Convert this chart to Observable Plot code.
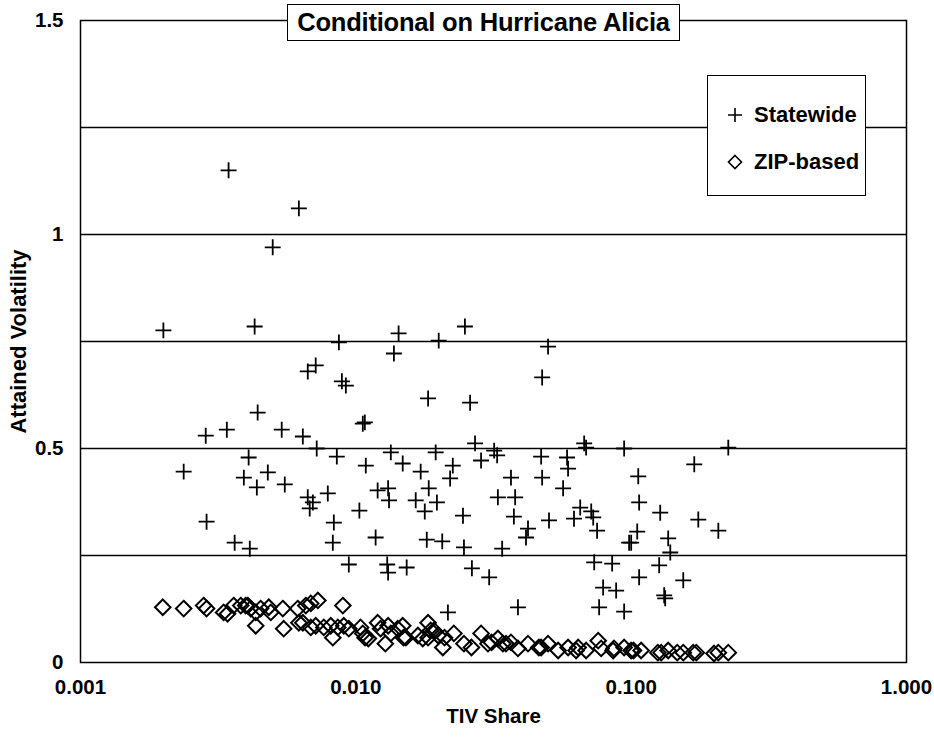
<!DOCTYPE html>
<html><head><meta charset="utf-8">
<script src="https://cdn.jsdelivr.net/npm/d3@7"></script>
<script src="https://cdn.jsdelivr.net/npm/@observablehq/plot@0.6"></script>
<style>
body{margin:0;background:#fff;font-family:"Liberation Sans",Arial,sans-serif;}
#wrap{position:relative;width:934px;height:738px;}
.title{position:absolute;left:287px;top:4px;width:393px;height:37px;box-sizing:border-box;border:1.5px solid #000;background:#fff;font-weight:bold;font-size:25.5px;display:flex;align-items:center;justify-content:center;white-space:nowrap;letter-spacing:-0.2px;}
.legend{position:absolute;left:707px;top:75px;width:159px;height:121px;box-sizing:border-box;border:1.5px solid #000;background:#fff;font-weight:bold;font-size:22px;}
.legend .row{position:absolute;left:18px;display:flex;align-items:center;white-space:nowrap;height:26px;}
.legend svg{margin-right:10px;}
</style></head>
<body>
<div id="wrap"></div>
<script>
// Tick labels / categories
const xTicks = [0.001, 0.01, 0.1, 1];
const yTicks = [0, 0.5, 1, 1.5];
const gridY = [0.25, 0.5, 0.75, 1, 1.25];
const seriesNames = ["Statewide", "ZIP-based"];
const titleText = "Conditional on Hurricane Alicia";

// Statewide series (TIV share, attained volatility)
const statewideX = [0.00200,0.00345,0.00621,0.00499,0.00429,0.00868,0.01375,0.00669,0.00715,0.00890,
0.00920,0.00440,0.00285,0.00340,0.00538,0.00642,0.00721,0.00853,0.01060,0.01078,
0.00408,0.00237,0.00392,0.00479,0.00437,0.00552,0.01087,0.00669,0.00698,0.00680,
0.00791,0.01200,0.01310,0.01320,0.01030,0.00287,0.00832,0.00825,0.01180,0.00363,
0.00412,0.00943,0.01300,0.01310,0.01430,0.02000,0.02490,0.04990,0.04750,0.01830,
0.02600,0.01340,0.01950,0.02710,0.03180,0.03260,0.01480,0.02250,0.02850,0.04710,
0.05850,0.05900,0.06750,0.06860,0.09430,0.01720,0.02200,0.03660,0.04750,0.05660,
0.01840,0.01650,0.01970,0.01780,0.03280,0.03790,0.03750,0.02450,0.05030,0.06200,
0.06530,0.07160,0.07280,0.07520,0.04220,0.04150,0.01810,0.02060,0.02470,0.03400,
0.09830,0.01530,0.02640,0.03050,0.07340,0.08530,0.07910,0.08820,0.2253,0.1695,
0.1061,0.1069,0.1275,0.1753,0.2073,0.1052,0.1000,0.1363,0.1387,0.1264,
0.1069,0.1546,0.1318,0.0216,0.0388,0.0765,0.0943,0.1329];
const statewideY = [0.776,1.150,1.061,0.970,0.785,0.748,0.722,0.680,0.694,0.657,
0.647,0.584,0.530,0.544,0.544,0.528,0.500,0.481,0.558,0.561,
0.479,0.446,0.432,0.444,0.409,0.416,0.460,0.386,0.374,0.360,
0.395,0.402,0.407,0.379,0.355,0.329,0.327,0.280,0.292,0.280,
0.266,0.229,0.229,0.210,0.769,0.752,0.785,0.738,0.666,0.617,
0.607,0.491,0.491,0.512,0.495,0.484,0.465,0.460,0.472,0.481,
0.479,0.453,0.512,0.502,0.500,0.446,0.430,0.432,0.432,0.407,
0.407,0.379,0.374,0.353,0.386,0.386,0.341,0.343,0.332,0.336,
0.362,0.353,0.339,0.308,0.313,0.292,0.287,0.283,0.269,0.266,
0.280,0.222,0.220,0.199,0.234,0.231,0.175,0.168,0.502,0.463,
0.435,0.374,0.350,0.334,0.308,0.306,0.280,0.290,0.257,0.227,
0.199,0.192,0.157,0.117,0.129,0.129,0.119,0.150];

// ZIP-based series
const zipX = [0.00199,0.00237,0.00280,0.00287,0.00331,0.00342,0.00360,0.00382,0.00398,0.00405,
0.00415,0.00433,0.00451,0.00483,0.00491,0.00543,0.00433,0.00547,0.00615,0.00621,
0.00642,0.00658,0.00686,0.00728,0.00897,0.00686,0.00715,0.00765,0.00811,0.00825,
0.00860,0.00904,0.00943,0.0104,0.0106,0.0108,0.0111,0.0120,0.0123,0.0128,
0.0131,0.0134,0.0142,0.0148,0.0149,0.0152,0.0168,0.0175,0.0183,0.0183,
0.0187,0.0192,0.0199,0.0207,0.0210,0.0227,0.0247,0.0263,0.0285,0.0302,
0.0311,0.0328,0.0342,0.0351,0.0366,0.0388,0.0422,0.0462,0.0471,0.0499,
0.0543,0.0590,0.0631,0.0642,0.0686,0.0759,0.0778,0.0860,0.0866,0.0943,
0.100,0.102,0.1087,0.125,0.1285,0.1363,0.147,0.1546,0.168,0.1724,
0.200,0.2073,0.2253];
const zipY = [0.129,0.126,0.133,0.126,0.117,0.114,0.133,0.133,0.133,0.133,
0.126,0.117,0.126,0.129,0.117,0.126,0.086,0.079,0.126,0.093,
0.093,0.133,0.138,0.145,0.133,0.082,0.086,0.082,0.086,0.058,
0.082,0.086,0.079,0.082,0.068,0.058,0.056,0.093,0.079,0.044,
0.086,0.068,0.079,0.086,0.058,0.058,0.063,0.056,0.093,0.058,
0.075,0.075,0.063,0.035,0.058,0.068,0.044,0.035,0.068,0.044,
0.047,0.056,0.044,0.044,0.047,0.033,0.044,0.035,0.035,0.044,
0.028,0.035,0.028,0.035,0.028,0.051,0.033,0.028,0.033,0.035,
0.028,0.028,0.028,0.023,0.023,0.028,0.023,0.023,0.023,0.023,
0.021,0.023,0.023];

const statewide = statewideX.map((x, i) => ({x, y: statewideY[i]}));
const zip = zipX.map((x, i) => ({x, y: zipY[i]}));

const font = '"Liberation Sans", Arial, sans-serif';
const chart = Plot.plot({
  width: 934, height: 738,
  marginTop: 20, marginRight: 28, marginBottom: 76, marginLeft: 80,
  style: {fontFamily: font, fontSize: "20px", fontWeight: "bold", color: "#000", background: "#fff", overflow: "visible"},
  x: {type: "log", domain: [0.001, 1]},
  y: {domain: [0, 1.5]},
  marks: [
    Plot.ruleY(gridY, {stroke: "#000", strokeWidth: 1.4}),
    Plot.frame({stroke: "#000", strokeWidth: 1.5}),
    Plot.axisX({ticks: xTicks, tickFormat: d3.format(".3f"), tickSize: 0, tickPadding: 17, label: null, fontSize: 20.5}),
    Plot.axisY({ticks: yTicks, tickFormat: d => String(d), tickSize: 0, tickPadding: 17, label: null, fontSize: 20.5}),
    Plot.text(["TIV Share"], {frameAnchor: "bottom", dy: 60, fontSize: 20.5, fontWeight: "bold"}),
    Plot.text(["Attained Volatility"], {frameAnchor: "left", textAnchor: "middle", dx: -62, rotate: -90, fontSize: 22, fontWeight: "bold"}),
    Plot.dot(zip, {x: "x", y: "y", symbol: "diamond2", r: 7, fill: "none", stroke: "#000", strokeWidth: 2}),
    Plot.dot(statewide, {x: "x", y: "y", symbol: "plus", r: 5.2, stroke: "#000", strokeWidth: 1.8})
  ]
});
const wrap = document.getElementById("wrap");
wrap.appendChild(chart);

const title = document.createElement("div");
title.className = "title";
title.textContent = titleText;
wrap.appendChild(title);

const legend = document.createElement("div");
legend.className = "legend";
const plusSvg = '<svg width="18" height="18" viewBox="-9 -9 18 18"><path d="M-7,0H7M0,-7V7" stroke="#000" stroke-width="1.6"/></svg>';
const diaSvg = '<svg width="18" height="18" viewBox="-9 -9 18 18"><path d="M0,-6.5L6.5,0L0,6.5L-6.5,0Z" fill="none" stroke="#000" stroke-width="1.6"/></svg>';
legend.innerHTML =
  `<div class="row" style="top:26px">${plusSvg}<span>${seriesNames[0]}</span></div>` +
  `<div class="row" style="top:73px">${diaSvg}<span>${seriesNames[1]}</span></div>`;
wrap.appendChild(legend);
</script>
</body></html>
